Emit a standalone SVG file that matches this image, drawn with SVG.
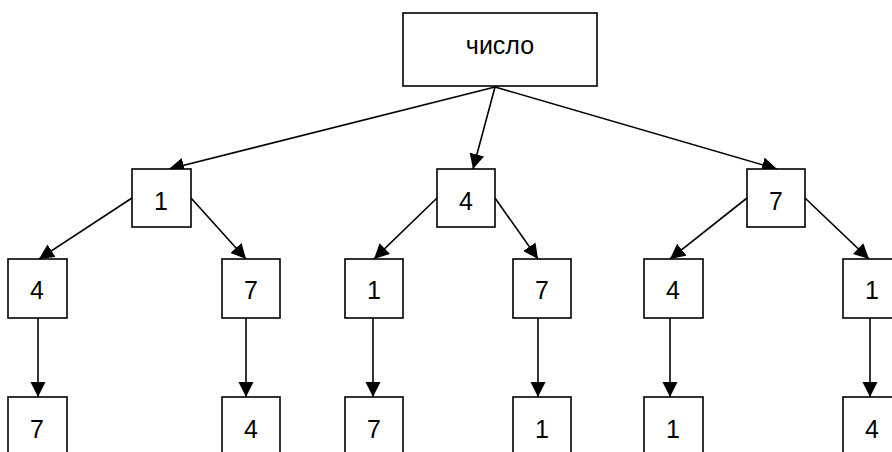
<svg xmlns="http://www.w3.org/2000/svg" width="892" height="452" viewBox="0 0 892 452">
<style>
rect{fill:#fff;stroke:#000;stroke-width:1.6}
text{font-family:"Liberation Sans",Arial,sans-serif;font-size:25px;fill:#000;text-anchor:middle}
.c line{stroke:#000;stroke-width:1.6;marker-end:url(#ah)}
</style>
<defs>
<marker id="ah" markerUnits="userSpaceOnUse" markerWidth="16" markerHeight="16" refX="15" refY="7.5" orient="auto">
<path d="M0,0 L15,7.5 L0,15 z" fill="#000"/>
</marker>
</defs>
<g class="c" id="connectors">
<line x1="495" y1="87" x2="169" y2="169"/>
<line x1="495" y1="87" x2="473" y2="169"/>
<line x1="495" y1="87" x2="777" y2="169"/>
<line x1="132" y1="198" x2="39" y2="259"/>
<line x1="191" y1="198" x2="246" y2="259"/>
<line x1="437" y1="198" x2="374" y2="259"/>
<line x1="495" y1="198" x2="538" y2="259"/>
<line x1="747" y1="198" x2="670" y2="259"/>
<line x1="805" y1="198" x2="869" y2="259"/>
<line x1="38" y1="318" x2="38" y2="397"/>
<line x1="246" y1="318" x2="246" y2="397"/>
<line x1="373" y1="318" x2="373" y2="397"/>
<line x1="538" y1="318" x2="538" y2="397"/>
<line x1="670" y1="318" x2="670" y2="397"/>
<line x1="870" y1="318" x2="870" y2="397"/>
</g>
<g id="root"><rect x="403" y="13" width="194" height="73"/><text x="500" y="54">число</text></g>
<g id="n1"><rect x="132" y="169" width="59" height="58"/><text x="161" y="210">1</text></g>
<g id="n4"><rect x="437" y="169" width="58" height="58"/><text x="466" y="210">4</text></g>
<g id="n7"><rect x="747" y="169" width="58" height="58"/><text x="776" y="210">7</text></g>
<g id="n14"><rect x="8" y="259" width="59" height="59"/><text x="37" y="299">4</text></g>
<g id="n17"><rect x="222" y="259" width="58" height="59"/><text x="251" y="299">7</text></g>
<g id="n41"><rect x="345" y="259" width="58" height="59"/><text x="374" y="299">1</text></g>
<g id="n47"><rect x="513" y="259" width="58" height="59"/><text x="542" y="299">7</text></g>
<g id="n74"><rect x="644" y="259" width="59" height="59"/><text x="673" y="299">4</text></g>
<g id="n71"><rect x="843" y="259" width="58" height="59"/><text x="872" y="299">1</text></g>
<g id="n147"><rect x="8" y="397" width="59" height="59"/><text x="37" y="438">7</text></g>
<g id="n174"><rect x="222" y="397" width="58" height="59"/><text x="251" y="438">4</text></g>
<g id="n417"><rect x="345" y="397" width="58" height="59"/><text x="374" y="438">7</text></g>
<g id="n471"><rect x="513" y="397" width="58" height="59"/><text x="542" y="438">1</text></g>
<g id="n741"><rect x="644" y="397" width="59" height="59"/><text x="673" y="438">1</text></g>
<g id="n714"><rect x="843" y="397" width="58" height="59"/><text x="872" y="438">4</text></g>
</svg>
